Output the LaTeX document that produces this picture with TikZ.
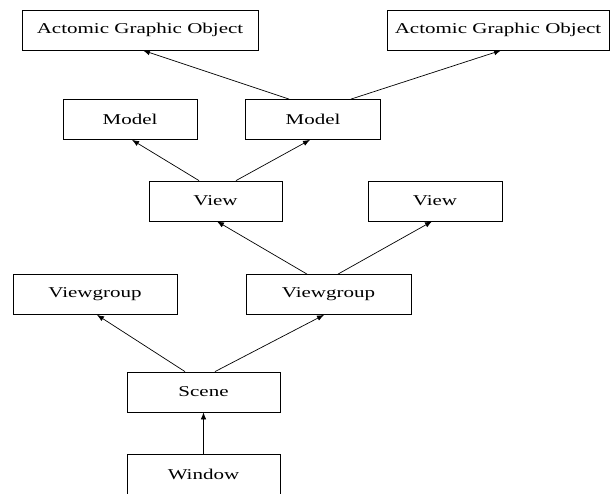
\documentclass[tikz,border=0pt]{standalone}
\usepackage{fontspec}
\usepackage{graphicx}
\setmainfont{Liberation Serif}
\usetikzlibrary{arrows.meta}
\newcommand{\wide}[1]{\raisebox{-1.5pt}{\scalebox{1.4}[1]{#1}}}
\begin{document}
\begin{tikzpicture}[x=1pt,y=-1pt,
  box/.style={draw=black, line width=0.8pt, minimum height=40pt, inner sep=0pt,
    font=\fontsize{15}{18}\selectfont},
  arr/.style={draw=black, line width=0.7pt, -{Latex[length=7pt,width=5.5pt]}}]
\useasboundingbox (0,0) rectangle (610,494);
\clip (0,0) rectangle (610,494);
\fill[white] (0,0) rectangle (610,494);
\node[box, minimum width=236pt] (ago1) at (140,30) {\wide{Actomic Graphic Object}};
\node[box, minimum width=222pt] (ago2) at (498,30) {\wide{Actomic Graphic Object}};
\node[box, minimum width=134pt] (model1) at (130,119.5) {\wide{Model}};
\node[box, minimum width=135pt] (model2) at (313,119.5) {\wide{Model}};
\node[box, minimum width=133pt] (view1) at (215.5,201) {\wide{View}};
\node[box, minimum width=134pt] (view2) at (435,201) {\wide{View}};
\node[box, minimum width=164pt] (vg1) at (95,294.5) {\wide{Viewgroup}};
\node[box, minimum width=165pt] (vg2) at (328.5,294.5) {\wide{Viewgroup}};
\node[box, minimum width=153pt] (scene) at (203.5,392) {\wide{Scene}};
\node[box, minimum width=153pt, minimum height=60pt] (window) at (203.5,484) {};
\node[font=\fontsize{15}{18}\selectfont] (windowlabel) at (203.5,474) {\wide{Window}};
\draw[arr] ([xshift=-24pt]model2.north) -- ([xshift=3pt]ago1.south);
\draw[arr] ([xshift=38pt]model2.north) -- ([xshift=3pt]ago2.south);
\draw[arr] ([xshift=-16.5pt]view1.north) -- ([xshift=2pt]model1.south);
\draw[arr] ([xshift=20.5pt]view1.north) -- ([xshift=-3pt]model2.south);
\draw[arr] ([xshift=-21.5pt]vg2.north) -- ([xshift=1.5pt]view1.south);
\draw[arr] ([xshift=9.5pt]vg2.north) -- ([xshift=-3pt]view2.south);
\draw[arr] ([xshift=-18.5pt]scene.north) -- ([xshift=2pt]vg1.south);
\draw[arr] ([xshift=11.5pt]scene.north) -- ([xshift=-4.5pt]vg2.south);
\draw[arr] (window.north) -- (scene.south);
\end{tikzpicture}
\end{document}
